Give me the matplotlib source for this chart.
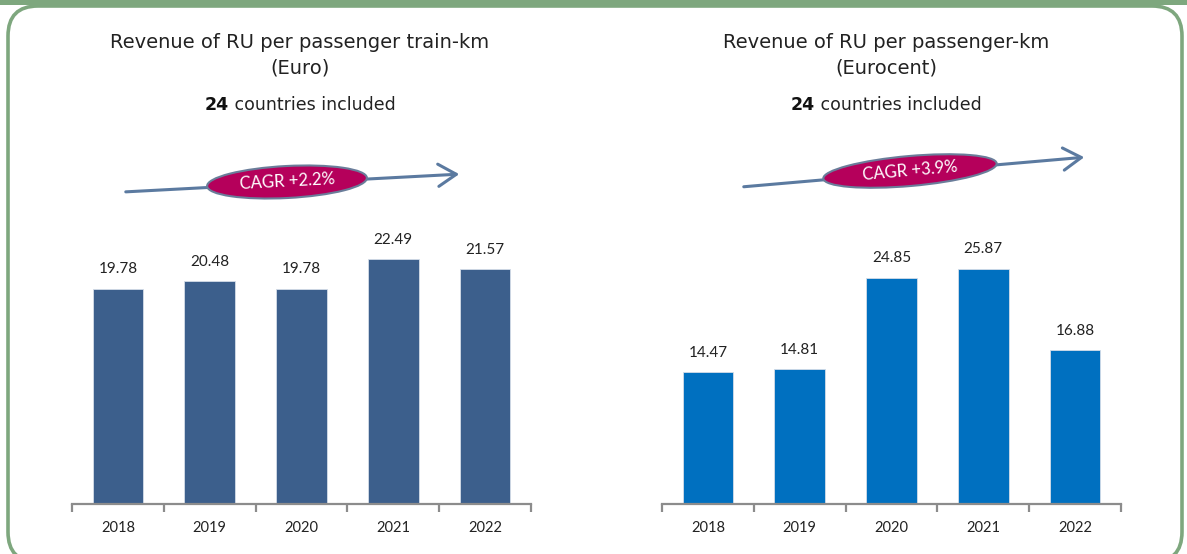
import matplotlib
matplotlib.use("Agg")
import matplotlib.pyplot as plt
from matplotlib.patches import Ellipse, FancyBboxPatch, FancyArrowPatch

plt.rcParams['font.family'] = ['Lato', 'DejaVu Sans']

years = ["2018", "2019", "2020", "2021", "2022"]
rev_train_km = [19.78, 20.48, 19.78, 22.49, 21.57]
rev_pass_km = [14.47, 14.81, 24.85, 25.87, 16.88]
cagr_train_km = "CAGR +2.2%"
cagr_pass_km = "CAGR +3.9%"
n_countries = "24"

W, H = 1187, 554
fig = plt.figure(figsize=(W / 100, H / 100), dpi=100)
fig.patch.set_facecolor("white")

green = "#7ea77e"
arrow_col = "#5b7aa0"
magenta = "#b5005b"
title_font = ["DejaVu Sans"]


def px_axes(x0, y0, x1, y1, **kw):
    # axes placed by pixel box (y measured from top)
    return fig.add_axes([x0 / W, 1 - y1 / H, (x1 - x0) / W, (y1 - y0) / H], **kw)


# overlay in pixel coordinates for frame, arrows and ellipses
ov = fig.add_axes([0, 0, 1, 1], zorder=-1)
ov.set_xlim(0, W)
ov.set_ylim(H, 0)
ov.axis("off")

ov.add_patch(FancyBboxPatch((8, 6), 1174, 556,
                            boxstyle="round,pad=0,rounding_size=30",
                            fc="white", ec=green, lw=2.6))
ov.fill_between([0, W], 0, 5, color=green, lw=0)


def cagr_arrow(x0, y0, x1, y1, cx, cy, w, h, ang, label):
    ov.add_patch(FancyArrowPatch((x0, y0), (x1, y1), arrowstyle="->,head_length=13,head_width=8",
                                 color=arrow_col, lw=2.2, mutation_scale=1))
    ov.add_patch(Ellipse((cx, cy), w, h, angle=-ang, fc=magenta,
                         ec="#6a7d9a", lw=1.5, zorder=3))
    ov.text(cx, cy, label, color="white", fontsize=12, ha="center",
            va="center", rotation=ang, zorder=4)


cagr_arrow(123, 192, 462, 174, 287, 182, 160, 32, 3, cagr_train_km)
cagr_arrow(741, 187, 1087, 157, 910, 171, 174, 30, 5, cagr_pass_km)


def titles(cx, line1, line2):
    fig.text(cx / W, 1 - 43 / H, line1, ha="center", va="center", fontsize=14,
             color="#222222", family=title_font)
    fig.text(cx / W, 1 - 68 / H, line2, ha="center", va="center", fontsize=14,
             color="#222222", family=title_font)
    r = fig.canvas.get_renderer()
    a = fig.text(0, 1 - 105 / H, n_countries, ha="left", va="center",
                 fontsize=12.5, fontweight="bold", color="#111111", family=title_font)
    b = fig.text(0, 1 - 105 / H, " countries included", ha="left", va="center",
                 fontsize=12.5, color="#222222", family=title_font)
    wa = a.get_window_extent(r).width
    wb = b.get_window_extent(r).width
    start = cx - (wa + wb) / 2
    a.set_x(start / W)
    b.set_x((start + wa) / W)


titles(300, "Revenue of RU per passenger train-km", "(Euro)")
titles(886, "Revenue of RU per passenger-km", "(Eurocent)")


def bar_panel(box, values, top, color):
    ax = px_axes(*box)
    ax.patch.set_visible(False)
    xs = range(len(values))
    bars = ax.bar(xs, values, width=0.55, color=color, edgecolor="#d5dde8", linewidth=0.6)
    for bar, v in zip(bars, values):
        ax.annotate(f"{v:.2f}", (bar.get_x() + bar.get_width() / 2, v),
                    xytext=(0, 9), textcoords="offset points",
                    ha="center", va="bottom", fontsize=11, color="#222222")
    ax.set_xlim(-0.5, len(values) - 0.5)
    ax.set_ylim(0, top)
    for s in ("top", "right", "left"):
        ax.spines[s].set_visible(False)
    ax.spines["bottom"].set_color("#8c8c8c")
    ax.spines["bottom"].set_linewidth(1.6)
    ax.set_yticks([])
    ax.set_xticks([i - 0.5 for i in range(len(values) + 1)], minor=False)
    ax.set_xticklabels([])
    ax.tick_params(axis="x", which="major", length=6, width=1.6, color="#8c8c8c")
    ax.set_xticks(list(xs), minor=True)
    ax.set_xticklabels(years, minor=True)
    ax.tick_params(axis="x", which="minor", length=0, pad=12, labelsize=10.5,
                   labelcolor="#222222")
    return ax


bar_panel((72, 232, 531, 504), rev_train_km, 25, "#3c5f8c")
bar_panel((662, 231, 1121, 504), rev_pass_km, 30, "#0070c0")

fig.savefig("out.png", dpi=100)
